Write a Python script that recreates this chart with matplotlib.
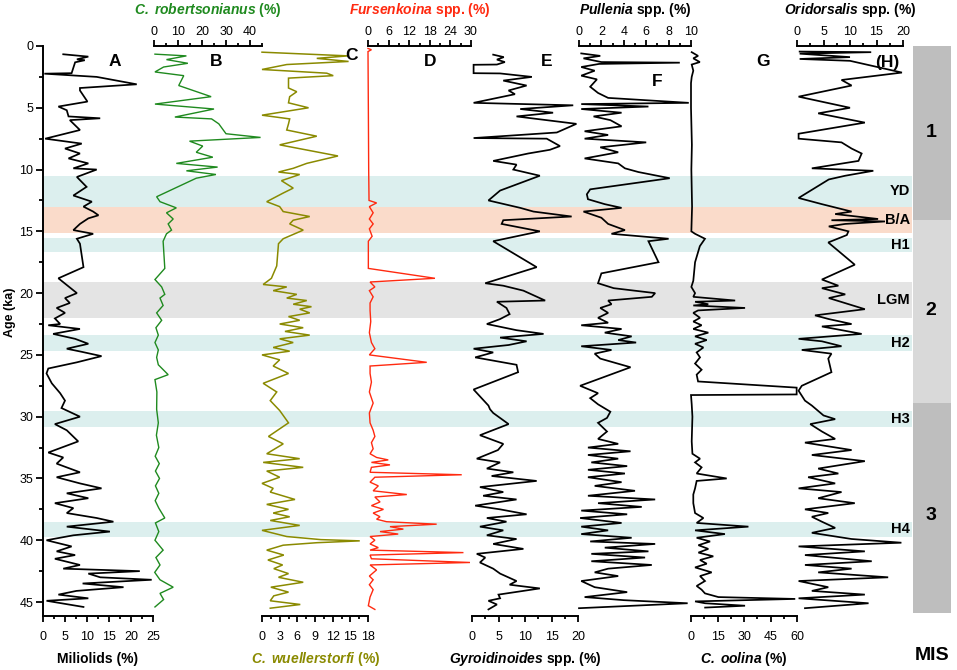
import matplotlib
matplotlib.use('Agg')
import matplotlib.pyplot as plt
from matplotlib.ticker import MultipleLocator

plt.rcParams['font.family'] = 'Liberation Sans'
plt.rcParams['mathtext.fontset'] = 'custom'
plt.rcParams['mathtext.rm'] = 'Liberation Sans'
plt.rcParams['mathtext.it'] = 'Liberation Sans:italic'
plt.rcParams['mathtext.bf'] = 'Liberation Sans:bold'
plt.rcParams['mathtext.bfit'] = 'Liberation Sans:italic:bold'

# ---- data (age in ka, abundance in %) ----
A_age = [0.67, 0.86, 1.08, 1.15, 1.32, 2.2, 2.24, 2.5, 3.1, 3.4,
         3.6, 4.5, 4.9, 5.2, 5.7, 5.85, 6.0, 6.8, 7.5, 7.9,
         8.3, 8.7, 9.1, 9.5, 9.9, 10.0, 10.6, 11.4, 12.1, 12.6,
         13.0, 13.4, 13.7, 13.95, 14.4, 14.9, 15.2, 15.6, 16.0, 17.9,
         18.8, 20.0, 20.4, 20.8, 21.2, 21.6, 22.05, 22.5, 22.6, 22.9,
         23.3, 23.7, 24.1, 24.5, 24.75, 25.1, 25.6, 26.1, 26.5, 27.3,
         28.1, 28.7, 29.3, 30.0, 30.6, 31.1, 32.0, 32.9, 33.3, 33.8,
         34.5, 34.9, 35.4, 35.8, 36.2, 36.6, 37.0, 37.4, 37.8, 38.2,
         38.5, 38.9, 39.3, 39.6, 40.0, 40.5, 40.9, 41.2, 41.5, 42.0,
         42.3, 42.5, 42.7, 43.0, 43.2, 43.5, 43.8, 44.1, 44.4, 44.7,
         44.9, 45.4]
A_val = [4.6, 10.3, 7.7, 9.5, 7.3, 6.5, 0.3, 12.2, 21.3, 8.4,
         8.4, 10.1, 3.5, 5.4, 5.8, 13.0, 6.1, 8.4, 0.5, 8.8,
         5.0, 8.4, 5.8, 10.3, 6.9, 12.2, 7.7, 9.9, 6.9, 11.1,
         9.2, 11.4, 12.6, 10.3, 8.4, 6.9, 11.4, 7.7, 8.4, 9.2,
         3.5, 7.7, 5.0, 6.1, 3.1, 5.0, 2.7, 3.9, 1.2, 8.4,
         2.3, 7.3, 10.3, 5.4, 8.8, 13.3, 7.7, 1.2, 0.8, 2.0,
         3.9, 5.0, 4.2, 8.4, 2.7, 5.4, 8.0, 1.2, 4.6, 3.1,
         8.4, 3.1, 8.4, 13.3, 5.4, 10.3, 2.7, 6.9, 5.4, 12.2,
         16.0, 5.4, 15.2, 6.9, 0.8, 6.5, 3.1, 7.3, 2.7, 8.4,
         4.6, 22.0, 10.3, 13.0, 24.7, 9.0, 18.3, 7.6, 3.5, 10.3,
         0.8, 9.2]

B_age = [0.66, 0.8, 1.1, 1.4, 1.7, 2.1, 2.4, 3.2, 4.1, 4.7,
         5.1, 5.75, 5.9, 6.3, 7.1, 7.4, 7.7, 8.1, 8.6, 9.0,
         9.5, 9.8, 10.1, 10.4, 10.7, 12.2, 12.6, 13.1, 13.5, 14.0,
         14.4, 14.9, 15.2, 15.8, 18.0, 18.9, 19.5, 20.1, 20.4, 21.0,
         21.6, 22.2, 22.8, 23.4, 24.0, 24.6, 25.2, 25.8, 26.6, 27.0,
         28.0, 29.4, 30.5, 31.5, 32.5, 33.2, 33.8, 34.4, 35.0, 35.6,
         36.2, 36.8, 37.4, 38.2, 38.6, 39.3, 40.0, 40.8, 41.4, 42.0,
         42.6, 43.2, 43.8, 44.3, 44.8, 45.4]
B_val = [0.4, 13.5, 5.2, 14.1, 4.0, 0.4, 12.4, 10.3, 23.8, 0.4,
         25.0, 8.7, 24.0, 27.0, 30.0, 44.4, 14.8, 20.3, 17.6, 24.5,
         9.3, 26.5, 13.5, 25.8, 17.6, 1.1, 2.5, 9.3, 5.2, 8.0,
         5.9, 7.3, 5.2, 3.8, 4.5, 0.4, 3.2, 4.5, 2.5, 3.8,
         1.1, 3.2, 0.8, 1.8, 0.4, 1.8, 1.1, 1.8, 5.9, 0.4,
         1.2, 1.1, 1.8, 1.0, 2.0, 0.5, 2.2, 0.6, 2.3, 0.6,
         2.0, 0.5, 2.0, 4.5, 0.6, 2.0, 0.4, 3.8, 0.8, 2.5,
         0.3, 2.5, 8.0, 2.5, 4.0, 0.4]

C_age = [0.5, 0.8, 1.0, 1.25, 1.5, 1.9, 2.2, 2.4, 2.6, 3.4,
         3.7, 4.1, 4.6, 5.0, 5.6, 5.9, 6.3, 6.8, 7.3, 8.0,
         8.9, 9.5, 9.9, 10.2, 10.4, 10.9, 11.5, 11.9, 12.6, 13.0,
         13.4, 13.8, 14.1, 14.4, 14.9, 15.6, 16.0, 17.8, 18.8, 19.3,
         19.5, 19.8, 20.1, 20.4, 20.6, 20.9, 21.1, 21.3, 21.6, 21.9,
         22.2, 22.5, 22.8, 23.1, 23.4, 23.7, 24.0, 24.4, 24.7, 25.0,
         25.4, 25.9, 26.5, 27.3, 28.0, 28.7, 29.5, 30.5, 31.6, 32.2,
         33.0, 33.4, 33.7, 34.1, 34.4, 34.9, 35.4, 35.8, 36.1, 36.7,
         37.1, 37.5, 37.8, 38.1, 38.4, 38.8, 39.2, 39.7, 39.95, 40.05,
         40.2, 40.4, 40.8, 41.2, 41.6, 42.0, 42.3, 42.7, 43.0, 43.4,
         43.8, 44.2, 44.5, 44.9, 45.2, 45.5]
C_val = [0.0, 14.6, 9.3, 14.7, 4.2, 0.0, 11.0, 12.1, 4.5, 4.5,
         5.9, 4.7, 4.5, 7.9, 0.0, 4.7, 4.5, 4.2, 9.3, 3.0,
         12.9, 7.6, 5.3, 2.8, 6.4, 3.3, 5.3, 3.6, 0.8, 3.0,
         3.6, 8.1, 5.3, 4.7, 7.0, 3.6, 2.8, 2.5, 1.6, 0.2,
         4.2, 1.9, 5.9, 4.2, 7.6, 5.3, 8.4, 6.4, 8.1, 4.5,
         6.4, 3.0, 7.0, 3.9, 8.1, 3.0, 5.3, 1.9, 4.7, 0.0,
         3.0, 1.9, 4.5, 0.2, 2.5, 1.4, 3.0, 4.5, 1.1, 3.6,
         0.8, 6.4, 0.2, 7.0, 0.8, 3.0, 0.0, 1.9, 1.4, 5.6,
         0.8, 4.5, 1.9, 4.7, 1.4, 6.4, 0.0, 4.2, 10.0, 16.6,
         9.3, 3.6, 0.8, 3.7, 1.0, 3.5, 2.0, 4.5, 2.8, 7.0,
         1.5, 4.5, 2.0, 1.4, 6.5, 1.4]

D_age = [0.2, 0.3, 0.45, 5.0, 10.0, 12.5, 12.7, 13.0, 13.5, 14.0,
         14.4, 14.8, 15.4, 15.8, 18.0, 18.8, 19.1, 19.5, 19.8, 20.3,
         20.8, 21.4, 22.3, 23.2, 24.0, 24.5, 25.0, 25.6, 25.9, 26.5,
         27.2, 28.0, 28.9, 29.7, 30.5, 31.1, 31.6, 32.1, 32.6, 33.0,
         33.3, 33.5, 33.7, 33.9, 34.1, 34.5, 34.7, 34.9, 35.3, 35.6,
         36.0, 36.3, 36.5, 36.9, 37.2, 37.5, 37.8, 38.1, 38.3, 38.5,
         38.7, 38.9, 39.1, 39.3, 39.5, 39.7, 40.0, 40.3, 40.6, 40.8,
         41.0, 41.2, 41.5, 41.8, 42.0, 42.4, 42.9, 43.2, 43.6, 44.0,
         44.6, 45.3, 45.6]
D_val = [0.0, 1.0, 0.0, 0.1, 0.2, 0.3, 2.5, 0.4, 1.5, 0.4,
         1.5, 0.4, 1.2, 0.1, 0.1, 19.5, 0.6, 2.0, 0.4, 1.5,
         0.6, 0.6, 0.8, 0.4, 1.0, 2.0, 0.4, 17.1, 0.6, 0.6,
         1.0, 0.4, 1.5, 0.4, 0.6, 1.5, 2.0, 1.0, 1.5, 0.6,
         2.5, 5.9, 1.0, 6.4, 1.0, 0.6, 27.3, 2.0, 0.6, 3.0,
         1.5, 11.3, 2.0, 3.5, 1.0, 4.5, 1.5, 3.5, 2.5, 5.4,
         20.0, 6.4, 10.3, 3.5, 8.8, 0.6, 2.0, 0.6, 3.0, 0.6,
         27.8, 0.6, 1.0, 29.7, 0.6, 2.5, 0.4, 1.5, 0.4, 1.5,
         0.6, 0.1, 2.0]

E_age = [0.7, 0.9, 1.1, 1.3, 1.5, 1.52, 2.2, 2.22, 2.5, 2.8,
         3.2, 3.6, 3.9, 4.6, 4.8, 5.1, 5.4, 5.7, 6.3, 7.0,
         7.45, 7.5, 8.1, 8.4, 8.7, 9.3, 9.6, 10.0, 10.5, 11.7,
         12.5, 13.1, 13.4, 13.8, 14.1, 14.4, 15.0, 15.8, 17.9, 19.2,
         19.4, 19.8, 20.6, 20.7, 21.2, 21.7, 22.1, 22.5, 23.0, 23.3,
         23.6, 23.9, 24.2, 24.5, 24.8, 25.2, 25.8, 26.4, 27.8, 29.1,
         29.4, 29.7, 30.6, 31.5, 32.2, 32.7, 33.4, 33.7, 34.2, 34.5,
         34.8, 35.2, 35.7, 36.1, 36.4, 36.7, 37.2, 37.5, 37.9, 38.2,
         38.5, 38.9, 39.2, 39.6, 39.9, 40.3, 40.7, 41.1, 41.4, 41.8,
         42.3, 42.7, 43.3, 43.6, 43.9, 44.4, 44.7, 44.9, 45.2, 45.6]
E_val = [4.0, 6.0, 4.7, 6.2, 4.7, 0.3, 0.3, 5.3, 11.3, 5.9,
         10.3, 6.9, 8.1, 0.3, 19.1, 9.1, 15.3, 8.4, 19.7, 16.0,
         0.3, 14.1, 16.6, 14.7, 10.6, 4.0, 8.4, 7.8, 12.8, 5.3,
         3.1, 9.1, 11.6, 18.8, 5.9, 5.6, 12.8, 4.0, 12.2, 2.5,
         5.9, 9.7, 13.8, 4.7, 6.5, 7.1, 5.3, 2.8, 8.4, 13.5,
         5.3, 10.3, 6.9, 0.3, 4.0, 0.6, 8.4, 8.7, 0.3, 3.1,
         3.4, 4.0, 6.9, 1.5, 5.9, 4.9, 0.9, 5.3, 2.8, 7.8,
         3.7, 12.2, 1.5, 5.9, 2.1, 8.4, 0.6, 5.3, 10.3, 2.8,
         6.5, 1.5, 5.9, 2.8, 8.4, 4.0, 9.7, 0.9, 2.5, 1.5,
         4.0, 5.3, 8.4, 7.1, 12.8, 5.0, 5.3, 3.1, 4.7, 3.1]

F_age = [0.6, 0.8, 1.0, 1.3, 1.35, 1.45, 1.7, 2.0, 2.4, 2.7,
         3.3, 3.8, 4.2, 4.6, 4.7, 4.9, 5.1, 5.4, 5.7, 6.0,
         6.5, 6.9, 7.2, 7.5, 7.8, 8.2, 8.6, 9.1, 9.5, 9.9,
         10.2, 10.7, 11.6, 12.0, 12.4, 12.8, 13.1, 13.4, 13.9, 14.4,
         14.9, 15.2, 15.6, 15.8, 17.5, 18.4, 19.2, 19.6, 20.0, 20.3,
         20.6, 20.9, 21.2, 21.6, 22.0, 22.4, 22.6, 22.9, 23.2, 23.5,
         23.8, 24.0, 24.3, 24.6, 24.9, 25.3, 26.0, 27.5, 28.1, 28.5,
         29.0, 29.6, 30.1, 30.5, 31.2, 31.8, 32.2, 32.5, 32.8, 33.1,
         33.4, 33.7, 34.0, 34.3, 34.6, 34.9, 35.3, 35.6, 36.0, 36.4,
         36.7, 37.0, 37.3, 37.6, 37.9, 38.2, 38.6, 38.9, 39.2, 39.5,
         39.8, 40.1, 40.3, 40.6, 40.9, 41.1, 41.4, 41.7, 42.0, 42.3,
         42.6, 42.9, 43.3, 43.8, 44.2, 44.6, 44.85, 45.1, 45.5]
F_val = [0.2, 1.9, 0.4, 2.0, 9.0, 1.8, 0.2, 1.4, 0.2, 1.6,
         1.0, 1.7, 2.6, 9.8, 0.2, 6.2, 0.2, 3.8, 1.3, 2.8,
         3.8, 0.5, 2.6, 0.5, 6.0, 1.9, 3.5, 0.5, 3.5, 4.1,
         5.3, 8.1, 1.0, 0.7, 0.8, 2.3, 3.8, 0.4, 2.0, 2.6,
         4.1, 2.9, 8.0, 6.2, 7.1, 2.0, 1.7, 3.1, 6.8, 6.5,
         2.6, 2.9, 1.9, 2.6, 1.7, 2.6, 0.2, 3.8, 2.3, 4.7,
         3.5, 5.1, 0.2, 2.9, 1.4, 1.9, 4.6, 0.1, 1.7, 1.0,
         1.7, 2.8, 2.5, 1.7, 2.5, 1.7, 3.5, 0.8, 4.6, 0.8,
         3.5, 1.1, 4.3, 0.8, 4.1, 0.8, 3.8, 1.4, 5.0, 0.8,
         6.8, 1.7, 5.6, 0.2, 4.3, 0.1, 3.8, 0.2, 2.6, 0.2,
         4.7, 1.0, 6.8, 2.3, 6.2, 1.1, 5.9, 1.1, 6.5, 2.6,
         1.4, 3.5, 0.2, 1.4, 4.3, 0.5, 4.0, 9.7, 0.0]

G_age = [0.5, 0.8, 1.0, 1.3, 1.5, 2.0, 2.5, 3.0, 5.0, 8.0,
         10.0, 13.0, 15.0, 15.2, 15.6, 16.2, 17.5, 19.0, 19.5, 20.0,
         20.3, 20.6, 20.7, 20.9, 21.0, 21.2, 21.4, 21.6, 22.0, 22.3,
         22.6, 22.9, 23.2, 23.5, 23.8, 24.1, 24.4, 24.8, 25.2, 25.7,
         26.2, 26.6, 27.15, 27.65, 28.2, 28.25, 29.0, 30.0, 32.0, 33.0,
         33.4, 33.7, 34.1, 34.6, 35.0, 35.2, 35.8, 36.3, 37.0, 37.8,
         38.2, 38.6, 38.9, 39.2, 39.5, 39.8, 40.1, 40.4, 40.7, 41.0,
         41.3, 41.6, 41.9, 42.2, 42.6, 42.9, 43.3, 43.7, 44.0, 44.3,
         44.6, 44.75, 44.95, 45.1, 45.3, 45.45]
G_val = [0.4, 4.0, 1.3, 5.0, 0.4, 1.3, 0.4, 0.0, 0.0, 0.5,
         0.2, 0.6, 0.2, 2.3, 7.9, 5.0, 2.3, 1.3, 0.2, 2.3,
         1.3, 25.0, 2.3, 9.8, 1.3, 30.6, 4.0, 1.3, 5.1, 1.3,
         6.0, 1.3, 9.8, 2.3, 8.9, 2.3, 7.0, 3.2, 5.1, 2.3,
         6.0, 3.2, 4.0, 59.8, 59.8, 0.0, 0.4, 0.8, 0.4, 0.8,
         5.1, 2.3, 6.0, 3.2, 20.2, 3.2, 2.3, 1.3, 1.3, 2.3,
         7.0, 3.2, 32.5, 2.3, 19.2, 3.2, 10.8, 4.2, 9.8, 4.2,
         12.6, 5.1, 8.9, 2.3, 11.7, 5.1, 7.9, 3.2, 6.0, 7.9,
         15.5, 59.0, 2.3, 8.0, 30.6, 8.0]

H_age = [0.45, 0.5, 0.62, 0.9, 1.05, 1.2, 2.15, 2.75, 3.2, 4.1,
         5.0, 5.45, 6.2, 7.1, 7.5, 7.8, 8.3, 8.7, 9.3, 9.9,
         10.1, 10.5, 10.8, 12.3, 12.8, 13.4, 13.6, 14.0, 14.1, 14.2,
         14.4, 14.6, 15.0, 15.3, 15.9, 17.7, 18.9, 19.4, 19.6, 20.1,
         20.4, 21.3, 21.8, 22.1, 22.5, 22.7, 23.3, 23.7, 23.9, 24.3,
         24.6, 24.9, 25.3, 26.4, 27.5, 27.9, 28.7, 29.1, 29.9, 30.2,
         30.6, 31.2, 31.8, 32.1, 32.7, 33.1, 33.6, 34.2, 34.6, 34.9,
         35.4, 35.8, 36.1, 36.6, 37.0, 37.5, 37.8, 38.1, 38.5, 39.0,
         39.4, 39.9, 40.2, 40.5, 40.9, 41.2, 41.7, 42.0, 42.3, 42.6,
         43.0, 43.3, 43.8, 44.1, 44.4, 44.7, 45.1, 45.5]
H_val = [0.5, 14.0, 0.5, 10.0, 0.5, 10.0, 19.8, 8.4, 10.3, 0.3,
         10.0, 4.0, 12.8, 0.3, 0.3, 8.4, 10.3, 12.2, 11.6, 2.8,
         14.4, 9.1, 6.0, 0.3, 4.7, 10.3, 7.2, 15.3, 6.5, 16.6,
         9.1, 6.0, 9.7, 9.4, 5.9, 10.9, 4.7, 7.8, 4.7, 9.1,
         6.0, 12.8, 3.4, 6.0, 10.3, 4.7, 12.2, 0.3, 4.7, 8.4,
         0.9, 6.5, 5.9, 6.5, 0.9, 0.3, 1.5, 2.8, 5.0, 7.2,
         2.5, 4.7, 7.2, 1.5, 10.3, 2.8, 12.8, 4.0, 7.8, 2.1,
         7.2, 0.3, 8.4, 4.0, 10.9, 1.5, 5.9, 2.8, 4.7, 7.2,
         2.8, 10.3, 19.7, 0.3, 12.8, 1.5, 14.1, 1.5, 10.3, 4.0,
         17.2, 0.3, 5.9, 2.8, 12.8, 0.3, 13.5, 1.5]

# climate events (ka)
event_names = ['YD', 'B/A', 'H1', 'LGM', 'H2', 'H3', 'H4']
event_top = [10.5, 13.0, 15.5, 19.1, 23.4, 29.5, 38.5]
event_bot = [13.0, 15.1, 16.7, 22.0, 24.7, 30.8, 39.7]
event_colors = ['#dcefee', '#fadbca', '#dcefee', '#e4e4e4', '#dcefee', '#dcefee', '#dcefee']

# marine isotope stages
mis_names = ['1', '2', '3']
mis_top = [0.0, 14.1, 28.9]
mis_bot = [14.1, 28.9, 45.9]
mis_label_age = [7.0, 21.4, 38.0]
mis_colors = ['#bebebe', '#d9d9d9', '#bebebe']

# ---- layout (pixels of a 957 x 670 canvas) ----
W, H = 957, 670
Y_TOP, Y_BOT = 46, 616
PX_PER_KA = 12.356
AGE_MAX = (Y_BOT - Y_TOP) / PX_PER_KA

fig = plt.figure(figsize=(W / 100, H / 100), dpi=100)


def add_ax(x0, x1, z=2):
    ax = fig.add_axes([x0 / W, 1 - Y_BOT / H, (x1 - x0) / W, (Y_BOT - Y_TOP) / H], zorder=z)
    ax.set_ylim(AGE_MAX, 0)
    ax.patch.set_alpha(0)
    return ax


# background: event bands + MIS column
bg = add_ax(44, 951, z=0)
bg.set_xlim(44, 951)
bg.axis('off')
for name, t, b, c in zip(event_names, event_top, event_bot, event_colors):
    bg.fill_between([44, 912], t, b, color=c, lw=0)
    bg.text(910, (t + b) / 2, name, ha='right', va='center', fontsize=10.5, fontweight='bold')
for name, t, b, la, c in zip(mis_names, mis_top, mis_bot, mis_label_age, mis_colors):
    bg.fill_between([913, 951], t, b, color=c, lw=0)
    bg.text(931, la, name, ha='center', va='center', fontsize=14, fontweight='bold')


def panel(x0, x1, xmax, major, minor, side, ages, vals, color, lw):
    ax = add_ax(x0, x1)
    ax.set_xlim(0, xmax)
    ax.plot(vals, ages, color=color, lw=lw, clip_on=False, solid_joinstyle='miter')
    for s in ax.spines:
        ax.spines[s].set_visible(False)
    ax.spines[side].set_visible(True)
    ax.spines[side].set_linewidth(1.4)
    ax.xaxis.set_ticks_position(side)
    ax.xaxis.set_major_locator(MultipleLocator(major))
    ax.xaxis.set_minor_locator(MultipleLocator(minor))
    ax.tick_params(axis='x', which='major', length=4.5, width=1.3,
                   pad=1.5 if side == 'top' else 6, labelsize=9)
    ax.tick_params(axis='x', which='minor', length=2.5, width=1.3)
    ax.set_yticks([])
    return ax


green = '#1f8a1f'
olive = '#8a8a00'
red = '#ff2a10'

axA = panel(43, 153, 25, 5, 2.5, 'bottom', A_age, A_val, 'black', 1.25)
axA.spines['left'].set_visible(True)
axA.spines['left'].set_linewidth(1.4)
axA.yaxis.set_major_locator(MultipleLocator(5))
axA.yaxis.set_minor_locator(MultipleLocator(2.5))
axA.tick_params(axis='y', which='major', length=5, width=1.3, pad=2, labelsize=9)
axA.tick_params(axis='y', which='minor', length=3, width=1.3)

panel(154, 262, 45, 10, 5, 'top', B_age, B_val, green, 1.0)
panel(262, 368, 18, 3, 1.5, 'bottom', C_age, C_val, olive, 1.1)
panel(368, 471, 30, 6, 3, 'top', D_age, D_val, red, 1.0)
panel(472, 578, 20, 5, 2.5, 'bottom', E_age, E_val, 'black', 1.25)
panel(579, 691, 10, 2, 1, 'top', F_age, F_val, 'black', 1.25)
panel(691, 797, 60, 15, 7.5, 'bottom', G_age, G_val, 'black', 1.25)
panel(797, 903, 20, 5, 2.5, 'top', H_age, H_val, 'black', 1.25)


def ftext(x, y, s, **kw):
    fig.text(x / W, 1 - y / H, s, ha='center', va='center', **kw)


# axis titles
tkw = dict(fontsize=10, fontweight='bold')
ftext(98, 659, 'Miliolids (%)', **tkw)
ftext(208, 10, r'$\mathbfit{C.\ robertsonianus}$ (%)', color=green, **tkw)
ftext(316, 659, r'$\mathbfit{C.\ wuellerstorfi}$ (%)', color=olive, **tkw)
ftext(420, 10, r'$\mathbfit{Fursenkoina}$ spp. (%)', color=red, **tkw)
ftext(525, 659, r'$\mathbfit{Gyroidinoides}$ spp. (%)', **tkw)
ftext(635, 10, r'$\mathbfit{Pullenia}$ spp. (%)', **tkw)
ftext(744, 659, r'$\mathbfit{C.\ oolina}$ (%)', **tkw)
ftext(850, 10, r'$\mathbfit{Oridorsalis}$ spp. (%)', **tkw)
ftext(10, 312, 'Age (ka)', rotation=90, fontsize=9, fontweight='bold')
ftext(932, 656, 'MIS', fontsize=14, fontweight='bold')

# panel letters
lkw = dict(fontsize=12.5, fontweight='bold')
for letter, x, y in [('A', 115, 62), ('B', 216, 62), ('C', 351, 55), ('D', 430, 62),
                     ('E', 547, 62), ('F', 657, 81), ('G', 763, 62), ('(H)', 887, 62)]:
    ftext(x, y, letter, **lkw)

fig.savefig('out.png', dpi=100)
